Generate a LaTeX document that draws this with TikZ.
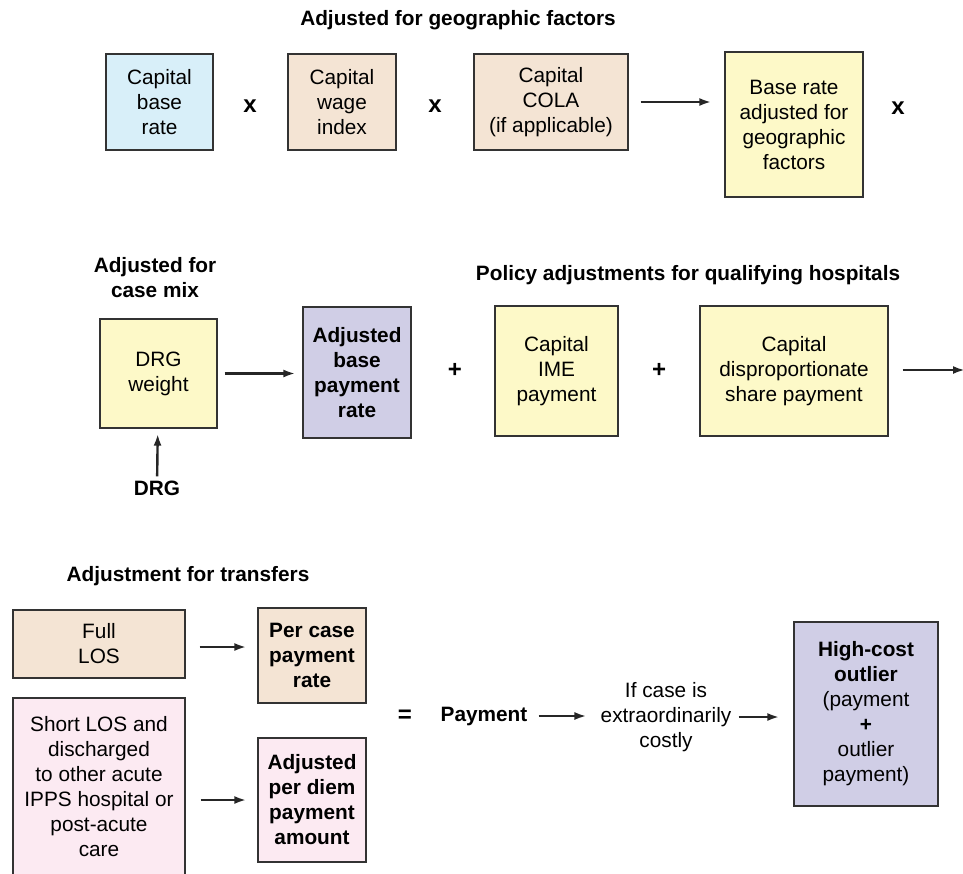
\documentclass[tikz,border=0pt]{standalone}
\usepackage{fontspec}
\setmainfont{Liberation Sans}
\usetikzlibrary{arrows.meta,positioning}

\definecolor{capblue}{HTML}{D8EFF9}
\definecolor{captan}{HTML}{F4E4D4}
\definecolor{capyellow}{HTML}{FDF9C8}
\definecolor{caplav}{HTML}{D0CEE6}
\definecolor{cappink}{HTML}{FCEAF2}

\begin{document}
\begin{tikzpicture}[x=1pt,y=-1pt,
  box/.style={draw=black!80,line width=1.3pt,align=center,inner sep=0pt,
    font=\fontsize{20.8}{25}\selectfont},
  boldbox/.style={box,font=\fontsize{20.8}{25}\selectfont\bfseries},
  lbl/.style={align=center,inner sep=1pt,font=\fontsize{20.8}{25}\selectfont},
  head/.style={lbl,font=\fontsize{20.8}{25}\selectfont\bfseries},
  sym/.style={lbl,font=\fontsize{24}{25}\selectfont\bfseries},
  flow/.style={-{Latex[length=12pt,width=8pt]},line width=2.4pt,draw=black!85}]

\useasboundingbox (0,0) rectangle (963,873);
\clip (0,0) rectangle (963,873);

% geographic factors
\node[head] (geohead) at (458,20) {Adjusted for geographic factors};
\node[box,fill=capblue,minimum width=107,minimum height=96] (base) at (159.5,102) {Capital\\base\\rate};
\node[sym] (times1) at (250,106) {x};
\node[box,fill=captan,minimum width=108,minimum height=96] (wage) at (342,102) {Capital\\wage\\index};
\node[sym] (times2) at (435,106) {x};
\node[box,fill=captan,minimum width=154,minimum height=96] (cola) at (551,102) {Capital\\COLA\\(if applicable)};
\node[box,fill=capyellow,minimum width=138,minimum height=145] (geo) at (794,124.5) {Base rate\\adjusted for\\geographic\\factors};
\node[sym] (times3) at (898,108) {x};
\draw[flow,shorten <=12pt,shorten >=13pt] (cola) -- (geo.west |- cola);

% case mix
\node[head] (mixhead) at (155,278) {Adjusted for\\case mix};
\node[box,fill=capyellow,minimum width=117,minimum height=109] (drgw) at (158.5,373.5) {DRG\\weight};
\node[boldbox,fill=caplav,minimum width=108,minimum height=131] (adjbase) at (357,372.5) {Adjusted\\base\\payment\\rate};
\node[head] (drg) at (157,488) {DRG};
\draw[flow,shorten <=7pt,shorten >=7pt] (drgw) -- (adjbase.west |- drgw);
\draw[flow,shorten <=3pt,shorten >=5pt] (drg) -- (drgw);

% policy adjustments
\node[head] (polhead) at (688,275) {Policy adjustments for qualifying hospitals};
\node[sym] (plus1) at (455,370) {+};
\node[box,fill=capyellow,minimum width=123,minimum height=130] (ime) at (556.5,371) {Capital\\IME\\payment};
\node[sym] (plus2) at (659,370) {+};
\node[box,fill=capyellow,minimum width=188,minimum height=130] (disp) at (794,371) {Capital\\disproportionate\\share payment};
\coordinate (rowend) at (965,370);
\draw[flow,shorten <=14pt] (disp.east |- rowend) -- (rowend);

% transfers
\node[head] (trhead) at (188,576) {Adjustment for transfers};
\node[box,fill=captan,minimum width=172,minimum height=68] (full) at (99,644) {Full\\LOS};
\node[boldbox,fill=captan,minimum width=108,minimum height=95] (percase) at (312,655.5) {Per case\\payment\\rate};
\node[box,fill=cappink,minimum width=172,minimum height=178] (short) at (99,787) {Short LOS and\\discharged\\to other acute\\IPPS hospital or\\post-acute\\care};
\node[boldbox,fill=cappink,minimum width=108,minimum height=124] (perdiem) at (312,800) {Adjusted\\per diem\\payment\\amount};
\draw[flow,shorten <=14pt,shorten >=11pt] (full.east |- 0,647) -- (percase.west |- 0,647);
\draw[flow,shorten <=15pt,shorten >=11pt] (short.east |- perdiem) -- (perdiem);

% payment and outlier
\node[sym] (equals) at (405,716) {=};
\node[head] (payment) at (484,716) {Payment};
\node[lbl] (ifcase) at (666,717) {If case is\\extraordinarily\\costly};
\node[box,fill=caplav,minimum width=144,minimum height=184] (outlier) at (866,714) {\textbf{High-cost}\\\textbf{outlier}\\(payment\\\textbf{+}\\outlier\\payment)};
\draw[flow,shorten <=10pt,shorten >=13pt] (payment) -- (ifcase.west |- payment);
\draw[flow,shorten <=6pt,shorten >=14pt] (ifcase) -- (outlier.west |- ifcase);

\end{tikzpicture}
\end{document}
